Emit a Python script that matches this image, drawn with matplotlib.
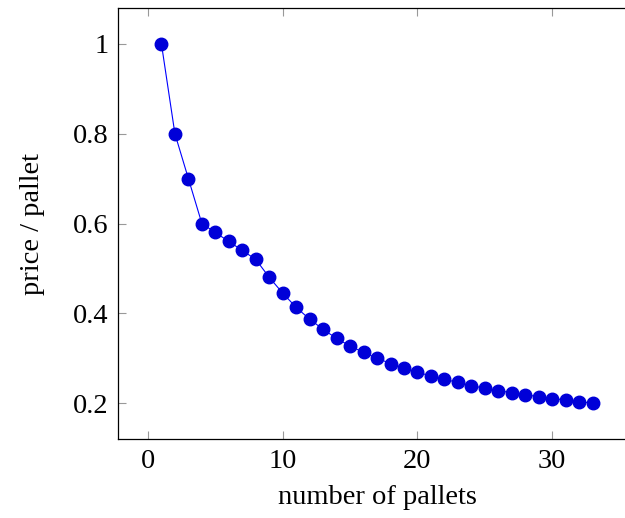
import matplotlib
matplotlib.use("Agg")
import matplotlib.pyplot as plt

# number of pallets vs. price per pallet
pallets = list(range(1, 34))
price = [1.0, 0.8, 0.7, 0.6, 0.58, 0.56, 0.54, 0.52, 0.48, 0.445,
         0.413, 0.387, 0.364, 0.344, 0.327, 0.313, 0.300, 0.288, 0.278, 0.269,
         0.260, 0.253, 0.246, 0.239, 0.233, 0.228, 0.223, 0.219, 0.214, 0.210,
         0.207, 0.203, 0.200]
x_ticks = [0, 10, 20, 30]
y_ticks = [0.2, 0.4, 0.6, 0.8, 1.0]
y_tick_labels = ["0.2", "0.4", "0.6", "0.8", "1"]

plt.rcParams["font.family"] = ["Liberation Serif", "DejaVu Serif"]

fig = plt.figure(figsize=(6.25, 5.18), dpi=100)
# axes runs off the right edge of the picture, as in the reference
ax = fig.add_axes([0.1893, 0.1525, 0.828, 0.832])

ax.plot(pallets, price, color="#0000FF", linewidth=0.8, marker="o",
        markersize=9, markerfacecolor="#0000D8", markeredgecolor="#0000D8")

ax.set_xlim(-2.2, 36.2)
ax.set_ylim(0.12, 1.08)
ax.set_xticks(x_ticks)
ax.set_yticks(y_ticks)
ax.set_yticklabels(y_tick_labels)

ax.tick_params(direction="in", length=6, width=0.8, color="#999999",
               top=True, right=True, labelsize=20.5, pad=7)
for s in ax.spines.values():
    s.set_linewidth(0.9)

ax.set_xlabel("number of pallets", fontsize=20.5, labelpad=8)
ax.set_ylabel("price / pallet", fontsize=20.5, labelpad=20)

fig.savefig("out.png", dpi=100)
